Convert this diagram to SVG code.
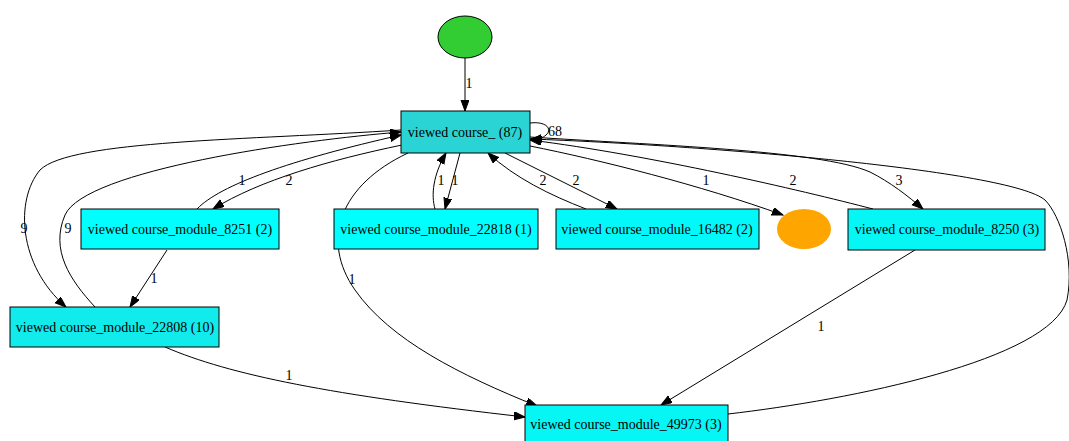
<svg xmlns="http://www.w3.org/2000/svg" width="1069" height="441" viewBox="0 0 1069 441">
<style>
.n{stroke:#000;stroke-width:1}
.t{font-family:"Liberation Serif",serif;font-size:14px;fill:#000;text-anchor:middle}
.e{fill:none;stroke:#000;stroke-width:1;marker-end:url(#ah)}
.l{font-family:"Liberation Serif",serif;font-size:14px;fill:#000;text-anchor:middle}
</style>
<defs>
<marker id="ah" markerUnits="userSpaceOnUse" markerWidth="13" markerHeight="10" refX="11" refY="4" orient="auto">
<path d="M0,0 L11,4 L0,8 z" fill="#000" stroke="#000"/>
</marker>
</defs>
<rect width="1069" height="441" fill="#fff"/>
<g id="connectors">
<path class="e" d="M465,58 L465,111"/>
<path class="e" d="M530,123 C546,121 553,129 546,135 C543,138 538,139 531,140"/>
<path class="e" d="M401,130 C250,140 70,140 40,170 C15,200 18,265 66,307"/>
<path class="e" d="M95,307 C70,280 50,250 65,215 C85,170 300,140 401,132"/>
<path class="e" d="M197,209 C220,185 290,160 401,135"/>
<path class="e" d="M402,145 C330,160 260,180 213,209"/>
<path class="e" d="M167,250 L130,307"/>
<path class="e" d="M408,153 C340,185 320,240 355,290 C390,340 460,375 537,406"/>
<path class="e" d="M165,347 C230,375 330,395 525,417"/>
<path class="e" d="M435,209 C431,195 433,175 446,153"/>
<path class="e" d="M460,153 L445,209"/>
<path class="e" d="M586,209 C550,195 515,178 488,153"/>
<path class="e" d="M505,153 L617,209"/>
<path class="e" d="M530,146 C600,160 700,185 783,215"/>
<path class="e" d="M873,209 C800,190 650,155 530,140"/>
<path class="e" d="M530,137 C650,145 820,150 870,172 C890,182 908,196 923,209"/>
<path class="e" d="M728,414 C850,400 1050,360 1067,300 C1075,260 1060,215 1045,200 C1010,170 700,145 530,139"/>
<path class="e" d="M915,250 L661,405"/>
<text class="l" x="469" y="88">1</text>
<text class="l" x="555" y="136">68</text>
<text class="l" x="24" y="233">9</text>
<text class="l" x="68" y="233">9</text>
<text class="l" x="242" y="185">1</text>
<text class="l" x="289" y="185">2</text>
<text class="l" x="154" y="283">1</text>
<text class="l" x="352" y="284">1</text>
<text class="l" x="289" y="380">1</text>
<text class="l" x="441" y="185">1</text>
<text class="l" x="455" y="185">1</text>
<text class="l" x="543" y="185">2</text>
<text class="l" x="576" y="185">2</text>
<text class="l" x="706" y="185">1</text>
<text class="l" x="793" y="185">2</text>
<text class="l" x="899" y="185">3</text>
<text class="l" x="821" y="331">1</text>
</g>
<g id="start"><ellipse class="n" cx="465" cy="37" rx="27" ry="21" fill="#32cd32"/></g>
<g id="course"><rect class="n" x="401" y="111" width="129" height="42" fill="#2ad4d4"/><text class="t" x="465" y="137">viewed course_ (87)</text></g>
<g id="m8251"><rect class="n" x="81" y="209" width="198" height="40" fill="#00ffff"/><text class="t" x="180" y="234">viewed course_module_8251 (2)</text></g>
<g id="m22808"><rect class="n" x="10" y="307" width="209" height="40" fill="#12ebeb"/><text class="t" x="115" y="332">viewed course_module_22808 (10)</text></g>
<g id="m22818"><rect class="n" x="334" y="209" width="204" height="40" fill="#00ffff"/><text class="t" x="436" y="234">viewed course_module_22818 (1)</text></g>
<g id="m16482"><rect class="n" x="556" y="209" width="203" height="40" fill="#03f9f9"/><text class="t" x="657" y="234">viewed course_module_16482 (2)</text></g>
<g id="end"><ellipse cx="804" cy="229" rx="27" ry="20" fill="#ffa500"/></g>
<g id="m8250"><rect class="n" x="848" y="209" width="197" height="41" fill="#06f6f6"/><text class="t" x="947" y="234">viewed course_module_8250 (3)</text></g>
<g id="m49973"><rect class="n" x="525" y="405" width="203" height="42" fill="#06f6f6"/><text class="t" x="626" y="429">viewed course_module_49973 (3)</text></g>
</svg>
